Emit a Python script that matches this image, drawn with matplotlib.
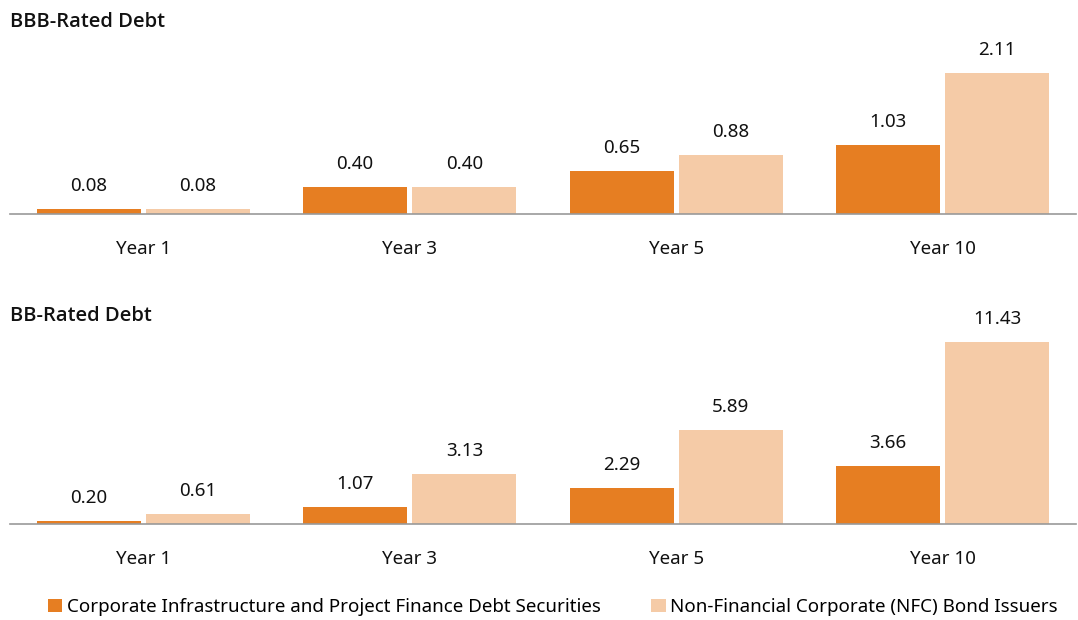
import matplotlib
matplotlib.use("Agg")
import matplotlib.pyplot as plt
import numpy as np
from matplotlib.patches import Patch

categories = ["Year 1", "Year 3", "Year 5", "Year 10"]
bbb_infra = [0.08, 0.40, 0.65, 1.03]
bbb_nfc = [0.08, 0.40, 0.88, 2.11]
bb_infra = [0.20, 1.07, 2.29, 3.66]
bb_nfc = [0.61, 3.13, 5.89, 11.43]
series_names = ["Corporate Infrastructure and Project Finance Debt Securities",
                "Non-Financial Corporate (NFC) Bond Issuers"]
panel_titles = ["BBB-Rated Debt", "BB-Rated Debt"]

C_DARK = "#E67E22"
C_LIGHT = "#F5CBA7"

plt.rcParams['font.family'] = ['Noto Sans', 'DejaVu Sans']

W, H = 1078, 620
fig = plt.figure(figsize=(W/100, H/100), dpi=100)

def ax_rect(x0, y0, x1, y1):
    return [x0/W, 1 - y1/H, (x1-x0)/W, (y1-y0)/H]

panels = [
    (ax_rect(10, 40, 1076, 214), bbb_infra, bbb_nfc, 2.6, panel_titles[0], 22),
    (ax_rect(10, 310, 1076, 524), bb_infra, bb_nfc, 13.45, panel_titles[1], 316),
]

FS = 13.5
x = np.arange(len(categories))
bw = 0.39
off = 0.205
for rect, a, b, ymax, title, ty in panels:
    ax = fig.add_axes(rect)
    ax.bar(x - off, a, bw, color=C_DARK)
    ax.bar(x + off, b, bw, color=C_LIGHT)
    for xi, v in zip(x - off, a):
        ax.annotate(f"{v:.2f}", (xi, v), xytext=(0, 10), textcoords="offset points",
                    ha="center", va="bottom", fontsize=FS, color="#111111")
    for xi, v in zip(x + off, b):
        ax.annotate(f"{v:.2f}", (xi, v), xytext=(0, 10), textcoords="offset points",
                    ha="center", va="bottom", fontsize=FS, color="#111111")
    ax.set_xlim(-0.5, len(categories) - 0.5)
    ax.set_ylim(0, ymax)
    ax.set_xticks(x)
    ax.set_xticklabels(categories, fontsize=FS, color="#111111")
    ax.tick_params(axis='x', length=0, pad=19)
    ax.set_yticks([])
    for s in ["top", "right", "left"]:
        ax.spines[s].set_visible(False)
    ax.spines["bottom"].set_color("#999999")
    ax.spines["bottom"].set_linewidth(1.2)
    ax.patch.set_alpha(0)
    fig.text(10/W, 1 - ty/H, title, fontsize=14.5, fontweight="semibold",
             family=["Open Sans", "Noto Sans", "DejaVu Sans"],
             ha="left", va="center", color="#111111")

handles = [Patch(facecolor=C_DARK, edgecolor="none"), Patch(facecolor=C_LIGHT, edgecolor="none")]
fig.legend(handles, series_names, loc="center", bbox_to_anchor=(553/W, 1 - 607/H),
           ncol=2, frameon=False, fontsize=FS, handlelength=0.75, handleheight=0.75,
           handletextpad=0.25, columnspacing=2.7)

fig.savefig("out.png", dpi=100)
